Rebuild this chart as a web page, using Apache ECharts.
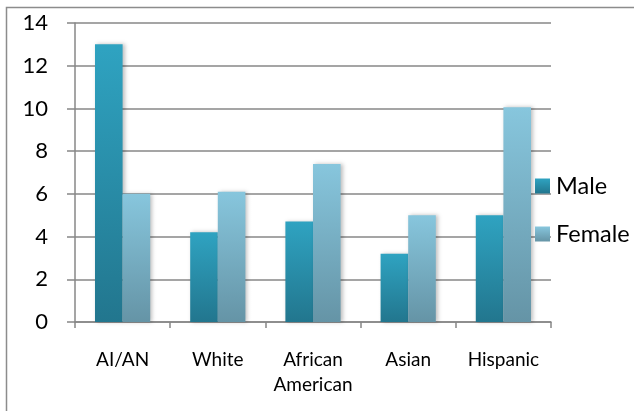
<!DOCTYPE html>
<html>
<head>
<meta charset="utf-8">
<script src="https://cdn.jsdelivr.net/npm/echarts@6/dist/echarts.min.js"></script>
<style>html,body{margin:0;padding:0;background:#fff;}#c{width:634px;height:411px;}</style>
</head>
<body>
<div id="c"></div>
<script>
var categories = ['AI/AN', 'White', 'African\nAmerican', 'Asian', 'Hispanic'];
var maleValues = [13.0, 4.2, 4.7, 3.2, 5.0];
var femaleValues = [6.0, 6.1, 7.4, 5.0, 10.05];
var yTicks = [0, 2, 4, 6, 8, 10, 12, 14];

var FONT = 'Lato';
var chart = echarts.init(document.getElementById('c'), null, {renderer: 'canvas'});
function grad(top, bottom) {
  return new echarts.graphic.LinearGradient(0, 0, 0, 1, [{offset: 0, color: top}, {offset: 1, color: bottom}]);
}
var gridColor = '#878787';
chart.setOption({
  animation: false,
  backgroundColor: '#fff',
  graphic: [{
    type: 'rect',
    shape: {x: 6.5, y: 7.5, width: 700, height: 500},
    style: {fill: 'none', stroke: '#8c8c8c', lineWidth: 1.5},
    silent: true
  }],
  grid: {left: 75, top: 23, right: 83, bottom: 89, containLabel: false},
  legend: {
    orient: 'vertical',
    left: 530,
    top: 169,
    itemWidth: 15,
    itemHeight: 15,
    itemGap: 24,
    icon: 'rect',
    textStyle: {fontFamily: FONT, fontSize: 23.5, color: '#000', lineHeight: 24, padding: [0, 0, 0, 1]},
    data: ['Male', 'Female']
  },
  xAxis: {
    type: 'category',
    data: categories,
    axisLine: {lineStyle: {color: gridColor, width: 1.5}},
    axisTick: {show: true, length: 6, lineStyle: {color: gridColor, width: 1.5}},
    axisLabel: {fontFamily: FONT, fontSize: 19, color: '#000', margin: 25, lineHeight: 25, interval: 0}
  },
  yAxis: {
    type: 'value',
    min: yTicks[0],
    max: yTicks[yTicks.length - 1],
    interval: 2,
    axisLine: {show: true, lineStyle: {color: gridColor, width: 1.5}},
    axisTick: {show: true, length: 8, lineStyle: {color: gridColor, width: 1.5}},
    splitLine: {show: true, lineStyle: {color: gridColor, width: 1.5}},
    axisLabel: {fontFamily: FONT, fontSize: 22, color: '#000', margin: 27}
  },
  series: [{
    name: 'Male',
    type: 'bar',
    data: maleValues,
    barGap: '0%',
    barCategoryGap: '42%',
    itemStyle: {color: grad('#2fa3c1', '#22768e'), shadowBlur: 4, shadowColor: 'rgba(0,0,0,0.25)', shadowOffsetX: 2}
  }, {
    name: 'Female',
    type: 'bar',
    data: femaleValues,
    barGap: '0%',
    barCategoryGap: '42%',
    itemStyle: {color: grad('#87c6dd', '#6594a6'), shadowBlur: 4, shadowColor: 'rgba(0,0,0,0.25)', shadowOffsetX: 2}
  }]
});
</script>
</body>
</html>
